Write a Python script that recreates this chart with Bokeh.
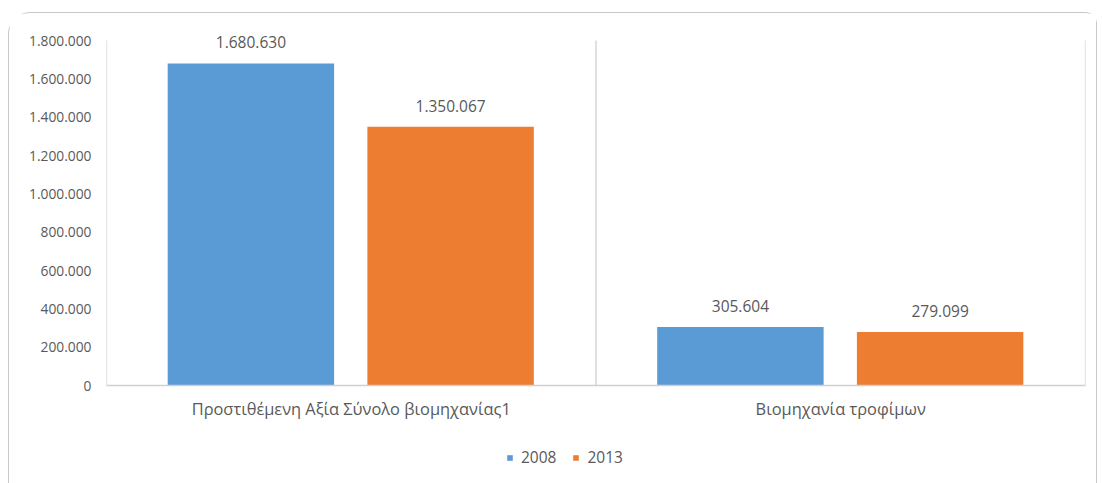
from bokeh.plotting import figure
from bokeh.layouts import column
from bokeh.models import (ColumnDataSource, FactorRange, Range1d, FixedTicker,
                          Legend, LegendItem)
from bokeh.transform import dodge
from bokeh.core.properties import value
from bokeh.embed import file_html
from bokeh.resources import INLINE

categories = ["Προστιθέμενη Αξία Σύνολο βιομηχανίας1", "Βιομηχανία τροφίμων"]
series_names = ["2008", "2013"]
values_2008 = [1680630, 305604]
values_2013 = [1350067, 279099]
y_ticks = [0, 200000, 400000, 600000, 800000, 1000000, 1200000, 1400000, 1600000, 1800000]
y_tick_labels = ["0", "200.000", "400.000", "600.000", "800.000", "1.000.000",
                 "1.200.000", "1.400.000", "1.600.000", "1.800.000"]

BLUE = "#5B9BD5"
ORANGE = "#ED7D31"
TXT = "#595959"
LINE = "#D0D0D0"
FONT = "Open Sans"


def fmt(v):
    return f"{v:,}".replace(",", ".")


src = ColumnDataSource(dict(
    cat=categories,
    v08=values_2008,
    v13=values_2013,
    l08=[fmt(v) for v in values_2008],
    l13=[fmt(v) for v in values_2013],
))

# page offset of the chart content (inside the rounded border)
OX, OY = 9, 13
W, H = 1087, 420
F_LEFT, F_RIGHT, F_TOP, F_BOTTOM = 106 - OX, 1085 - OX, 14 - OY, 385 - OY
Y_AXIS_TOP = 40 - OY  # pixel where the top tick (1.800.000) sits
y_max = y_ticks[-1] * (F_BOTTOM - F_TOP) / (F_BOTTOM - Y_AXIS_TOP)

p = figure(width=W, height=H, x_range=FactorRange(*categories),
           y_range=Range1d(0, y_max), output_backend="svg",
           toolbar_location=None, tools="",
           min_border_left=F_LEFT, min_border_top=F_TOP, min_border_right=W - F_RIGHT,
           min_border_bottom=H - F_BOTTOM)
p.outline_line_color = None
p.grid.visible = False
p.background_fill_color = "white"
p.border_fill_color = "white"

# category boundary lines
bounds = list(range(len(categories) + 1))
p.segment(x0=bounds, y0=[0] * len(bounds), x1=bounds, y1=[y_ticks[-1]] * len(bounds),
          line_color=LINE, line_width=1.3)

bw = 0.34
p.vbar(x=dodge("cat", -0.205, range=p.x_range), top="v08", width=bw,
       source=src, color=BLUE, line_color=None)
p.vbar(x=dodge("cat", 0.203, range=p.x_range), top="v13", width=bw,
       source=src, color=ORANGE, line_color=None)

for col, off in (("l08", -0.205), ("l13", 0.203)):
    p.text(x=dodge("cat", off, range=p.x_range), y=col.replace("l", "v"), text=col,
           source=src, y_offset=-21, text_align="center", text_baseline="middle",
           text_font=value(FONT), text_font_size="15.5px", text_color=TXT)

# y axis
p.yaxis.ticker = FixedTicker(ticks=y_ticks)
p.yaxis.major_label_overrides = {t: l for t, l in zip(y_ticks, y_tick_labels)}
p.yaxis.axis_line_color = None
p.yaxis.major_tick_line_color = None
p.yaxis.minor_tick_line_color = None
p.yaxis.major_label_standoff = 9
p.yaxis.major_label_text_font = FONT
p.yaxis.major_label_text_font_size = "13.8px"
p.yaxis.major_label_text_color = TXT

# x axis
p.xaxis.axis_line_color = LINE
p.xaxis.axis_line_width = 1.3
p.xaxis.major_tick_line_color = None
p.xaxis.minor_tick_line_color = None
p.xaxis.major_label_standoff = 5
p.xaxis.major_label_text_font = FONT
p.xaxis.major_label_text_font_size = "16.4px"
p.xaxis.major_label_text_color = TXT

# legend strip below the chart (key renderers are zero-size, only their style is used)
LH = 50
lg = figure(width=W, height=LH, x_range=Range1d(0, 1), y_range=Range1d(0, 1),
            output_backend="svg", toolbar_location=None, tools="",
            x_axis_location=None, y_axis_location=None,
            min_border_left=0, min_border_right=0, min_border_top=0, min_border_bottom=0)
lg.outline_line_color = None
lg.grid.visible = False
lg.border_fill_color = "white"
k1 = lg.vbar(x=[0], top=[0], width=0, color=BLUE, line_color=None)
k2 = lg.vbar(x=[0], top=[0], width=0, color=ORANGE, line_color=None)
legend = Legend(items=[LegendItem(label=series_names[0], renderers=[k1]),
                       LegendItem(label=series_names[1], renderers=[k2])],
                orientation="horizontal", location=(400, 15),
                label_text_font=FONT, label_text_font_size="15.5px",
                label_text_color=TXT, glyph_width=7, glyph_height=7,
                label_standoff=8, spacing=16, padding=0, margin=0,
                border_line_color=None, background_fill_alpha=0)
lg.add_layout(legend, "center")

layout = column(p, lg, spacing=0,
                styles={"margin-left": "8px", "margin-top": "12px",
                        "border": "1px solid #C8C8C8", "border-bottom": "none",
                        "border-radius": "22px 12px 0 0", "background": "white"})

open("out.html", "w").write(file_html(layout, INLINE))
